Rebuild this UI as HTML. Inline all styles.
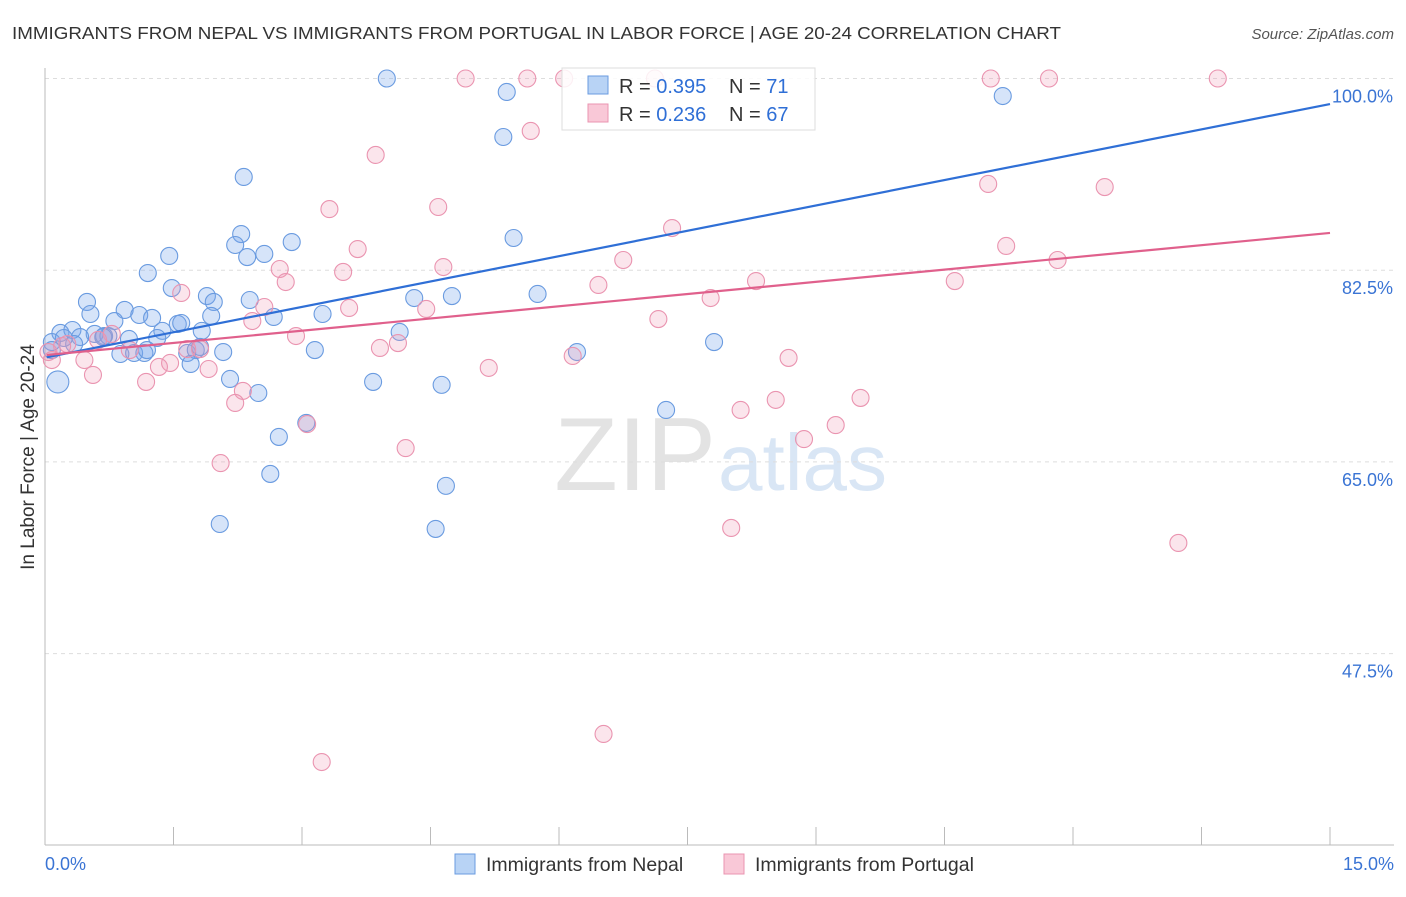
<!DOCTYPE html>
<html><head><meta charset="utf-8">
<style>
body{margin:0;background:#fff;font-family:"Liberation Sans",sans-serif;}
svg text{font-family:"Liberation Sans",sans-serif;}
</style></head>
<body>
<svg id="chart" width="1406" height="892" viewBox="0 0 1406 892" xmlns="http://www.w3.org/2000/svg">
<text x="12" y="39" font-size="17.5" fill="#333" textLength="1049" lengthAdjust="spacingAndGlyphs">IMMIGRANTS FROM NEPAL VS IMMIGRANTS FROM PORTUGAL IN LABOR FORCE | AGE 20-24 CORRELATION CHART</text>
<text x="1394" y="39" font-size="15" fill="#555" font-style="italic" text-anchor="end">Source: ZipAtlas.com</text>
<text x="716" y="490" font-size="104" fill="#e3e3e3" text-anchor="end" font-family="Liberation Serif">ZIP</text>
<text x="718" y="490" font-size="80" fill="#d9e6f5">atlas</text>
<g id="grid"></g>
<g id="axes"></g>
<g id="points"></g>
<g id="lines"></g>
<text transform="translate(34,457) rotate(-90)" font-size="19" fill="#333" text-anchor="middle">In Labor Force | Age 20-24</text>
<g>
<rect x="562" y="68" width="253" height="62" fill="#fff" fill-opacity="0.85" stroke="#ddd"/>
<rect x="588" y="76" width="20" height="18" fill="#b8d3f5" stroke="#6a9be0"/>
<rect x="588" y="104" width="20" height="18" fill="#f9c8d7" stroke="#ea94b0"/>
<text x="619" y="93" font-size="20" fill="#333">R = <tspan fill="#2f6fd6">0.395</tspan></text>
<text x="729" y="93" font-size="20" fill="#333">N = <tspan fill="#2f6fd6"> 71</tspan></text>
<text x="619" y="121" font-size="20" fill="#333">R = <tspan fill="#2f6fd6">0.236</tspan></text>
<text x="729" y="121" font-size="20" fill="#333">N = <tspan fill="#2f6fd6"> 67</tspan></text>
</g>
<g>
<rect x="455" y="854" width="20" height="20" fill="#b8d3f5" stroke="#6a9be0"/>
<text x="486" y="871" font-size="19.5" fill="#333">Immigrants from Nepal</text>
<rect x="724" y="854" width="20" height="20" fill="#f9c8d7" stroke="#ea94b0"/>
<text x="755" y="871" font-size="19.5" fill="#333">Immigrants from Portugal</text>
</g>
</svg>
<script>
const yTicks=[100,82.5,65,47.5];
const yTickLabels=["100.0%","82.5%","65.0%","47.5%"];
const xTickCount=[0,1.5,3,4.5,6,7.5,9,10.5,12,13.5,15];
const xLabels=["0.0%","15.0%"];
const nepalX=[3.99,5.39,11.18,5.35,2.32,2.29,2.22,2.88,2.56,2.36,5.47,1.45,1.20,1.48,0.49,1.89,1.97,4.31,4.75,5.75,0.93,0.53,1.10,1.25,0.81,1.94,2.67,3.24,1.55,1.59,1.37,1.83,4.14,0.18,0.32,0.58,0.69,0.74,0.41,0.98,1.31,0.08,0.34,0.88,1.04,1.16,1.66,1.76,2.08,3.15,6.21,7.81,1.70,2.16,3.83,4.63,0.15,2.49,7.25,3.05,2.73,4.68,2.63,2.04,4.56,0.08,0.22,0.68,1.19,1.81,2.39];
const nepalY=[100,98.77,98.40,94.66,91.01,85.80,84.80,85.07,83.98,83.70,85.44,83.80,82.24,80.87,79.60,80.14,79.60,79.96,80.14,80.33,78.87,78.50,78.41,78.14,77.86,78.32,78.23,78.50,77.59,77.68,76.96,76.96,76.86,76.77,77.04,76.68,76.49,76.49,76.40,76.22,76.31,75.94,75.76,74.85,74.94,74.94,74.94,75.21,75.03,75.21,75.03,75.94,73.94,72.57,72.30,72.03,72.30,71.29,69.74,68.56,67.28,62.81,63.90,59.33,58.88,75.21,76.31,76.40,75.21,75.49,79.78];
const portX=[4.91,5.63,6.06,7.12,11.04,11.72,13.69,5.67,3.86,11.01,12.37,3.32,4.59,7.32,3.65,11.22,2.74,2.81,3.48,4.65,6.75,8.30,10.62,11.82,6.46,1.59,2.56,3.55,4.45,7.77,2.42,7.16,2.93,0.78,0.62,0.26,0.20,3.91,4.12,0.99,1.66,1.81,0.04,0.46,1.46,1.33,1.91,5.18,6.16,8.68,0.56,1.18,2.31,2.22,8.12,8.53,9.52,3.06,9.23,8.86,4.21,2.05,8.01,13.23,6.52,3.23,0.08];
const portY=[100,100,100,100,100,100,100,95.21,93.02,90.37,90.09,88.08,88.27,86.35,84.43,84.71,82.61,81.42,82.34,82.79,83.43,81.51,81.51,83.43,81.15,80.42,79.14,79.05,78.96,79.96,77.86,78.04,76.49,76.68,76.13,75.76,75.58,75.40,75.85,75.21,75.30,75.30,75.03,74.30,74.03,73.67,73.48,73.58,74.67,74.49,72.94,72.30,71.48,70.38,69.74,70.66,70.84,68.45,68.36,67.08,66.26,64.89,58.97,57.60,40.16,37.60,74.30];
const nepalTrend=[74.55,97.67];
const portTrend=[74.76,85.90];

const NS="http://www.w3.org/2000/svg";
const X0=45,X1=1330,Y100=78.5,PX_PER=10.954;
function sx(v){return X0+(v/15)*(X1-X0);}
function sy(v){return Y100+(100-v)*PX_PER;}
function mk(tag,attrs,parent){const e=document.createElementNS(NS,tag);for(const k in attrs)e.setAttribute(k,attrs[k]);parent.appendChild(e);return e;}
const grid=document.getElementById('grid'),axes=document.getElementById('axes'),pts=document.getElementById('points'),lines=document.getElementById('lines');
yTicks.forEach((t,i)=>{
 const l=mk('line',{x1:X0,x2:1394,y1:sy(t),y2:sy(t),stroke:'#ddd','stroke-dasharray':'4,4'},grid);
 
 
 const tx=mk('text',{x:1393,y:sy(t)+24,'font-size':18,fill:'#3a74d4','text-anchor':'end'},axes);
 tx.textContent=yTickLabels[i];
 
 
});
const ax=mk('line',{x1:X0,x2:1394,y1:845,y2:845,stroke:'#bbb'},axes);


const ay=mk('line',{x1:X0,x2:X0,y1:68,y2:845,stroke:'#bbb'},axes);


xTickCount.forEach(t=>{
 const l=mk('line',{x1:sx(t),x2:sx(t),y1:827,y2:845,stroke:'#bbb'},axes);
 
 
});
const xl0=mk('text',{x:45,y:870,'font-size':18,fill:'#3a74d4'},axes);xl0.textContent=xLabels[0];


const xl1=mk('text',{x:1394,y:870,'font-size':18,fill:'#3a74d4','text-anchor':'end'},axes);xl1.textContent=xLabels[1];


function drawPts(xs,ys,fill,stroke,name){
 xs.forEach((v,i)=>{
  const r=(v<0.2&&ys[i]<73)?11:8.5;
  const c=mk('circle',{cx:sx(v),cy:sy(ys[i]),r:r,fill:fill,stroke:stroke,'stroke-width':1.1},pts);
  
  
 });
}
drawPts(nepalX,nepalY,'rgba(120,165,235,0.3)','#6a9be0','nepal-point');
drawPts(portX,portY,'rgba(240,150,180,0.25)','#ea94b0','portugal-point');
const bl=mk('line',{x1:sx(0.02),y1:sy(nepalTrend[0]),x2:sx(15),y2:sy(nepalTrend[1]),stroke:'#2f6fd6','stroke-width':2.2},lines);


const pl=mk('line',{x1:sx(0.02),y1:sy(portTrend[0]),x2:sx(15),y2:sy(portTrend[1]),stroke:'#e0608c','stroke-width':2.2},lines);


</script>
</body></html>
